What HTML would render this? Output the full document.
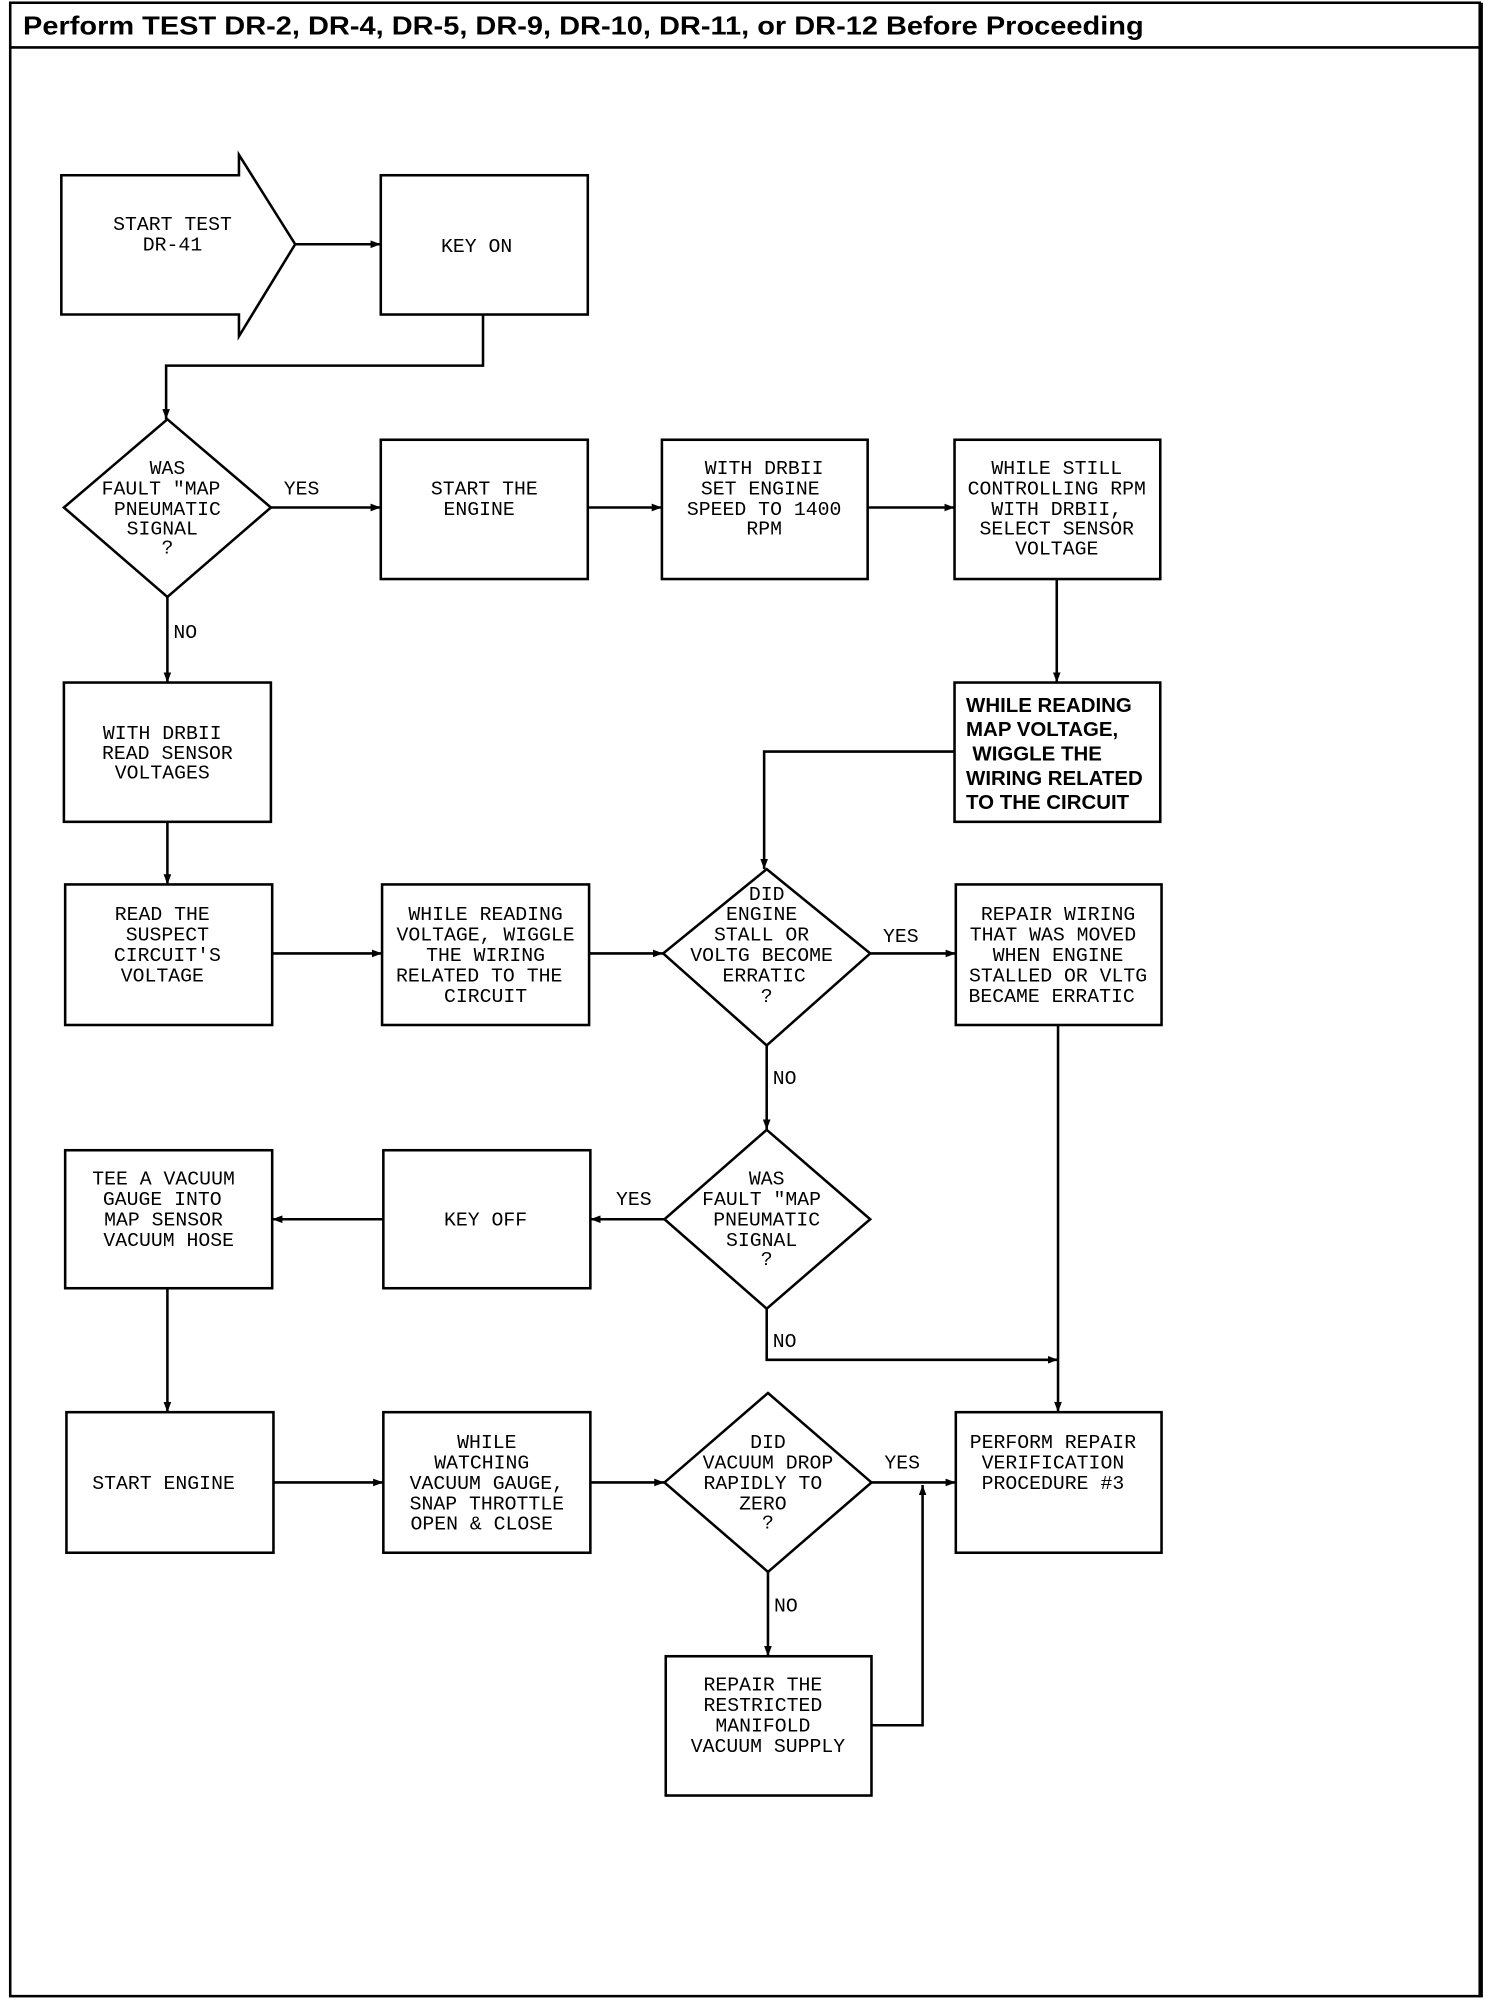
<!DOCTYPE html>
<html><head><meta charset="utf-8"><style>
html,body{margin:0;padding:0;background:#fff;}
svg{display:block;}
text{font-family:"Liberation Mono",monospace;font-size:15.5px;fill:#000;text-anchor:middle;}
.b{font-family:"Liberation Sans",sans-serif;font-weight:bold;font-size:16px;text-anchor:start;}
.h{font-family:"Liberation Sans",sans-serif;font-weight:bold;font-size:20px;text-anchor:start;}
</style></head><body>
<svg width="1504" height="2004" viewBox="0 0 1177 1568" xmlns="http://www.w3.org/2000/svg">
<defs><marker id="a" markerWidth="8" markerHeight="6" refX="8" refY="3" orient="auto" markerUnits="userSpaceOnUse"><path d="M0,0 L8,3 L0,6 z" fill="#000"/></marker></defs>
<g fill="none" stroke="#000" stroke-width="2">
<rect x="8" y="2" width="1150" height="1560"/>
<line x1="8" y1="37" x2="1158" y2="37"/>
<line x1="1159" y1="2" x2="1159" y2="1563" stroke-width="3"/>
<polygon points="48,137 187,137 187,121 231,191 187,263 187,246 48,246"/>
<rect x="298" y="137" width="162" height="109"/>
<polygon points="131,328 212,397 131,467 50,397"/>
<rect x="298" y="344" width="162" height="109"/>
<rect x="518" y="344" width="161" height="109"/>
<rect x="747" y="344" width="161" height="109"/>
<rect x="747" y="534" width="161" height="109"/>
<rect x="50" y="534" width="162" height="109"/>
<rect x="51" y="692" width="162" height="110"/>
<rect x="299" y="692" width="162" height="110"/>
<polygon points="600,680 681,746 600,818 519,746"/>
<rect x="748" y="692" width="161" height="110"/>
<polygon points="600,884 681,954 600,1024 520,954"/>
<rect x="300" y="900" width="162" height="108"/>
<rect x="51" y="900" width="162" height="108"/>
<rect x="52" y="1105" width="162" height="110"/>
<rect x="300" y="1105" width="162" height="110"/>
<polygon points="601,1090 682,1160 601,1230 520,1160"/>
<rect x="748" y="1105" width="161" height="110"/>
<rect x="521" y="1296" width="161" height="109"/>
</g>
<g fill="none" stroke="#000" stroke-width="2" marker-end="url(#a)">
<line x1="231" y1="191" x2="298" y2="191"/>
<polyline points="378,246 378,286 130,286 130,328"/>
<line x1="212" y1="397" x2="298" y2="397"/>
<line x1="460" y1="397" x2="518" y2="397"/>
<line x1="679" y1="397" x2="747" y2="397"/>
<line x1="827" y1="453" x2="827" y2="534"/>
<polyline points="747,588 598,588 598,680"/>
<line x1="131" y1="467" x2="131" y2="534"/>
<line x1="131" y1="643" x2="131" y2="692"/>
<line x1="213" y1="746" x2="299" y2="746"/>
<line x1="461" y1="746" x2="519" y2="746"/>
<line x1="681" y1="746" x2="748" y2="746"/>
<line x1="828" y1="802" x2="828" y2="1105"/>
<line x1="600" y1="818" x2="600" y2="884"/>
<line x1="520" y1="954" x2="462" y2="954"/>
<line x1="300" y1="954" x2="213" y2="954"/>
<polyline points="600,1024 600,1064 828,1064"/>
<line x1="131" y1="1008" x2="131" y2="1105"/>
<line x1="214" y1="1160" x2="300" y2="1160"/>
<line x1="462" y1="1160" x2="520" y2="1160"/>
<line x1="682" y1="1160" x2="748" y2="1160"/>
<line x1="601" y1="1230" x2="601" y2="1296"/>
<polyline points="682,1350 722,1350 722,1162"/>
</g>
<text class="h" x="18" y="27" textLength="877" lengthAdjust="spacingAndGlyphs">Perform TEST DR-2, DR-4, DR-5, DR-9, DR-10, DR-11, or DR-12  Before Proceeding</text>
<text x="135" y="180">START TEST</text><text x="135" y="196">DR-41</text>
<text x="373" y="197">KEY ON</text>
<text x="131" y="371">WAS</text><text x="126" y="387">FAULT "MAP</text><text x="131" y="403">PNEUMATIC</text><text x="127" y="418">SIGNAL</text><text x="131" y="433">?</text>
<text x="236" y="387">YES</text>
<text x="379" y="387">START THE</text><text x="375" y="403">ENGINE</text>
<text x="598" y="371">WITH DRBII</text><text x="595" y="387">SET ENGINE</text><text x="598" y="403">SPEED TO 1400</text><text x="598" y="418">RPM</text>
<text x="827" y="371">WHILE STILL</text><text x="827" y="387">CONTROLLING RPM</text><text x="827" y="403">WITH DRBII,</text><text x="827" y="418">SELECT SENSOR</text><text x="827" y="434">VOLTAGE</text>
<text class="b" x="756" y="557">WHILE READING</text><text class="b" x="756" y="576">MAP VOLTAGE,</text><text class="b" x="761" y="595">WIGGLE THE</text><text class="b" x="756" y="614">WIRING RELATED</text><text class="b" x="756" y="633">TO THE CIRCUIT</text>
<text x="145" y="499">NO</text>
<text x="127" y="578">WITH DRBII</text><text x="131" y="594">READ SENSOR</text><text x="127" y="609">VOLTAGES</text>
<text x="127" y="720">READ THE</text><text x="131" y="736">SUSPECT</text><text x="131" y="752">CIRCUIT'S</text><text x="127" y="768">VOLTAGE</text>
<text x="380" y="720">WHILE READING</text><text x="380" y="736">VOLTAGE, WIGGLE</text><text x="380" y="752">THE WIRING</text><text x="375" y="768">RELATED TO THE</text><text x="380" y="784">CIRCUIT</text>
<text x="600" y="704">DID</text><text x="596" y="720">ENGINE</text><text x="596" y="736">STALL OR</text><text x="596" y="752">VOLTG BECOME</text><text x="598" y="768">ERRATIC</text><text x="600" y="784">?</text>
<text x="705" y="737">YES</text>
<text x="828" y="720">REPAIR WIRING</text><text x="824" y="736">THAT WAS MOVED</text><text x="828" y="752">WHEN ENGINE</text><text x="828" y="768">STALLED OR VLTG</text><text x="823" y="784">BECAME ERRATIC</text>
<text x="614" y="848">NO</text>
<text x="600" y="927">WAS</text><text x="596" y="943">FAULT "MAP</text><text x="600" y="959">PNEUMATIC</text><text x="596" y="975">SIGNAL</text><text x="600" y="990">?</text>
<text x="496" y="943">YES</text>
<text x="380" y="959">KEY OFF</text>
<text x="128" y="927">TEE A VACUUM</text><text x="127" y="943">GAUGE INTO</text><text x="128" y="959">MAP SENSOR</text><text x="132" y="975">VACUUM HOSE</text>
<text x="614" y="1054">NO</text>
<text x="128" y="1165">START ENGINE</text>
<text x="381" y="1133">WHILE</text><text x="377" y="1149">WATCHING</text><text x="381" y="1165">VACUUM GAUGE,</text><text x="381" y="1181">SNAP THROTTLE</text><text x="377" y="1197">OPEN &amp; CLOSE</text>
<text x="601" y="1133">DID</text><text x="601" y="1149">VACUUM DROP</text><text x="597" y="1165">RAPIDLY TO</text><text x="597" y="1181">ZERO</text><text x="601" y="1196">?</text>
<text x="706" y="1149">YES</text>
<text x="824" y="1133">PERFORM REPAIR</text><text x="824" y="1149">VERIFICATION</text><text x="824" y="1165">PROCEDURE #3</text>
<text x="615" y="1261">NO</text>
<text x="597" y="1323">REPAIR THE</text><text x="597" y="1339">RESTRICTED</text><text x="597" y="1355">MANIFOLD</text><text x="601" y="1371">VACUUM SUPPLY</text>
</svg>
</body></html>
